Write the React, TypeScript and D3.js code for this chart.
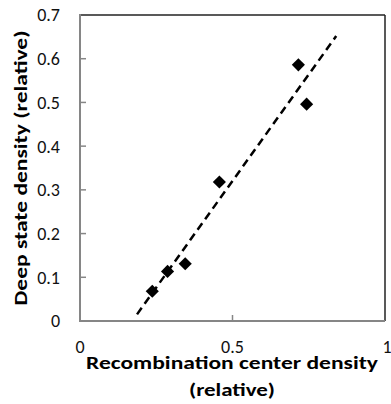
import React from "react";
import * as d3 from "d3";

// measured points (recombination center density vs deep state density)
const recombDensity = [0.237, 0.287, 0.345, 0.457, 0.716, 0.743];
const deepDensity = [0.068, 0.1135, 0.131, 0.318, 0.586, 0.496];
const xTicks = [0, 0.5, 1];
const yTicks = [0, 0.1, 0.2, 0.3, 0.4, 0.5, 0.6, 0.7];
const trendRange = [0.187, 0.84];

const W = 391;
const H = 404;
const M = { top: 15, right: 6, bottom: 83, left: 80 };
const FONT = "Carlito, Calibri, Lato, sans-serif";

const App = () => {
  const x = d3.scaleLinear().domain([0, 1]).range([M.left, W - M.right]);
  const y = d3.scaleLinear().domain([0, 0.7]).range([H - M.bottom, M.top]);

  // least squares trend line, like the spreadsheet's linear trendline
  const mx = d3.mean(recombDensity)!;
  const my = d3.mean(deepDensity)!;
  const sxy = d3.sum(recombDensity, (v, i) => (v - mx) * (deepDensity[i] - my));
  const sxx = d3.sum(recombDensity, (v) => (v - mx) * (v - mx));
  const slope = sxy / sxx;
  const icpt = my - slope * mx;
  const trend = d3
    .line<number>()
    .x((d) => x(d))
    .y((d) => y(slope * d + icpt));

  const diamond = d3.symbol(d3.symbolDiamond2, 110)();

  const x0 = x(0), x1 = x(1), y0 = y(0), y1 = y(0.7);

  return (
    <svg
      width={W}
      height={H}
      style={{ position: "absolute", left: 0, top: 0, background: "#fff" }}
      fontFamily={FONT}
    >
      {/* plot frame */}
      <line x1={x0} x2={x1} y1={y1} y2={y1} stroke="#222" strokeWidth={1.5} />
      <line x1={x1} x2={x1} y1={y1} y2={y0} stroke="#222" strokeWidth={1.5} />
      <line x1={x0} x2={x1} y1={y0} y2={y0} stroke="#868686" strokeWidth={2} />
      <line x1={x0} x2={x0} y1={y1 - 1} y2={y0 + 1} stroke="#868686" strokeWidth={2} />

      {/* y ticks */}
      {yTicks.map((t) => (
        <g key={"y" + t}>
          {t > 0 && t < 0.7 && (
            <line x1={x0} x2={x0 + 6} y1={y(t)} y2={y(t)} stroke="#868686" strokeWidth={1.5} />
          )}
          <text
            x={60}
            y={y(t)}
            dy="0.36em"
            textAnchor="end"
            fontSize={18}
            fill="#111"
          >
            {t === 0 ? "0" : d3.format(".1f")(t)}
          </text>
        </g>
      ))}

      {/* x ticks */}
      {xTicks.map((t) => (
        <g key={"x" + t}>
          {t > 0 && t < 1 && (
            <line x1={x(t)} x2={x(t)} y1={y0} y2={y0 - 6} stroke="#868686" strokeWidth={1.5} />
          )}
          <text x={x(t) + (t === 1 ? 2 : 0)} y={353} textAnchor="middle" fontSize={18} fill="#111">
            {t === 0 || t === 1 ? String(t) : d3.format(".1f")(t)}
          </text>
        </g>
      ))}

      {/* trend line */}
      <path
        d={trend(trendRange) ?? ""}
        fill="none"
        stroke="#000"
        strokeWidth={2.5}
        strokeDasharray="8,5"
      />

      {/* points */}
      {recombDensity.map((v, i) => (
        <path
          key={i}
          d={diamond ?? ""}
          transform={`translate(${x(v)},${y(deepDensity[i])})`}
          fill="#000"
        />
      ))}

      {/* axis titles */}
      <text
        x={232}
        y={369}
        textAnchor="middle"
        fontSize={19}
        fontWeight="bold"
        textLength={292}
        lengthAdjust="spacingAndGlyphs"
        fill="#000"
      >
        Recombination center density
      </text>
      <text
        x={232}
        y={396}
        textAnchor="middle"
        fontSize={19}
        fontWeight="bold"
        textLength={86}
        lengthAdjust="spacingAndGlyphs"
        fill="#000"
      >
        (relative)
      </text>
      <text
        transform={`translate(27,${(y0 + y1) / 2}) rotate(-90)`}
        textAnchor="middle"
        fontSize={19}
        fontWeight="bold"
        textLength={275}
        lengthAdjust="spacingAndGlyphs"
        fill="#000"
      >
        Deep state density (relative)
      </text>
    </svg>
  );
};

export default App;
